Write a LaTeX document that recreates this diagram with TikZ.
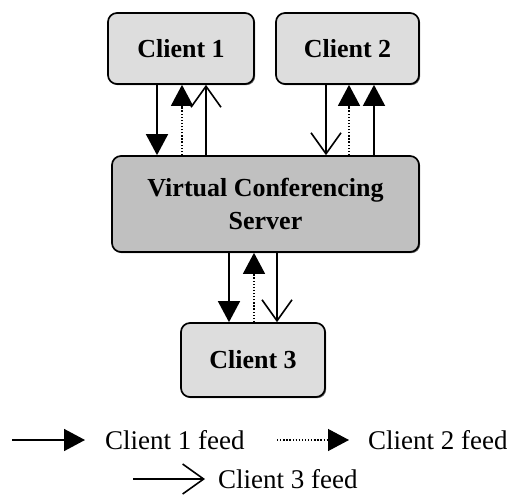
\documentclass[tikz,border=0pt]{standalone}
\usepackage{fontspec}
\setmainfont{Liberation Serif}
\usetikzlibrary{arrows.meta,shadows}
\definecolor{clientgray}{HTML}{DDDDDD}
\definecolor{servergray}{HTML}{C0C0C0}
\begin{document}
\begin{tikzpicture}[x=1pt,y=-1pt,
  box/.style={draw=black, line width=1.7pt, rounded corners=9pt, align=center, inner sep=0pt,
    font=\bfseries\fontsize{26}{33}\selectfont,
    drop shadow={shadow xshift=1.2pt, shadow yshift=-1.2pt, fill=black!60, opacity=1}},
  client/.style={box, fill=clientgray, minimum height=71pt},
  server/.style={box, fill=servergray},
  feed/.style={line width=1.6pt},
  fullhead/.style={feed, -{Triangle[length=21pt,width=22pt]}},
  dothead/.style={feed, line width=1.3pt, dash pattern=on 1.3pt off 1.8pt, -{Triangle[length=21pt,width=22pt]}},
  openhead/.style={feed, -{Straight Barb[length=21pt,width=30pt]}},
  legtext/.style={inner sep=0pt, font=\fontsize{27}{33}\selectfont}
]
\useasboundingbox (0,0) rectangle (507,504);

% boxes
\node[client, minimum width=146pt] (c1) at (181,48.5) {Client 1};
\node[client, minimum width=143pt] (c2) at (347.5,48.5) {Client 2};
\node[server, minimum width=307pt, minimum height=96pt] (srv) at (265.5,204) {Virtual Conferencing\\Server};
\node[client, minimum width=144pt, minimum height=74pt] (c3) at (253,360) {Client 3};

% Client 1 links
\draw[fullhead] (157,0 |- c1.south) -- (157,0 |- srv.north);
\draw[dothead] (182,0 |- srv.north) -- (182,0 |- c1.south);
\draw[openhead] (206,0 |- srv.north) -- (206,0 |- c1.south);

% Client 2 links
\draw[openhead] (326,0 |- c2.south) -- (326,0 |- srv.north);
\draw[dothead] (349,0 |- srv.north) -- (349,0 |- c2.south);
\draw[fullhead] (374,0 |- srv.north) -- (374,0 |- c2.south);

% Client 3 links
\draw[fullhead] (229,0 |- srv.south) -- (229,0 |- c3.north);
\draw[dothead] (254,0 |- c3.north) -- (254,0 |- srv.south);
\draw[openhead] (277,0 |- srv.south) -- (277,0 |- c3.north);

% legend
\coordinate (l1a) at (12,440);
\coordinate (l1b) at (85,440);
\draw[fullhead] (l1a) -- (l1b);
\node[legtext, anchor=west] (t1) at (105,440) {Client 1 feed};

\coordinate (l2a) at (277,440);
\coordinate (l2b) at (349,440);
\draw[dothead] (l2a) -- (l2b);
\node[legtext, anchor=west] (t2) at (368,440) {Client 2 feed};

\coordinate (l3a) at (133,479);
\coordinate (l3b) at (205,479);
\draw[openhead] (l3a) -- (l3b);
\node[legtext, anchor=west] (t3) at (218,479) {Client 3 feed};
\end{tikzpicture}
\end{document}
